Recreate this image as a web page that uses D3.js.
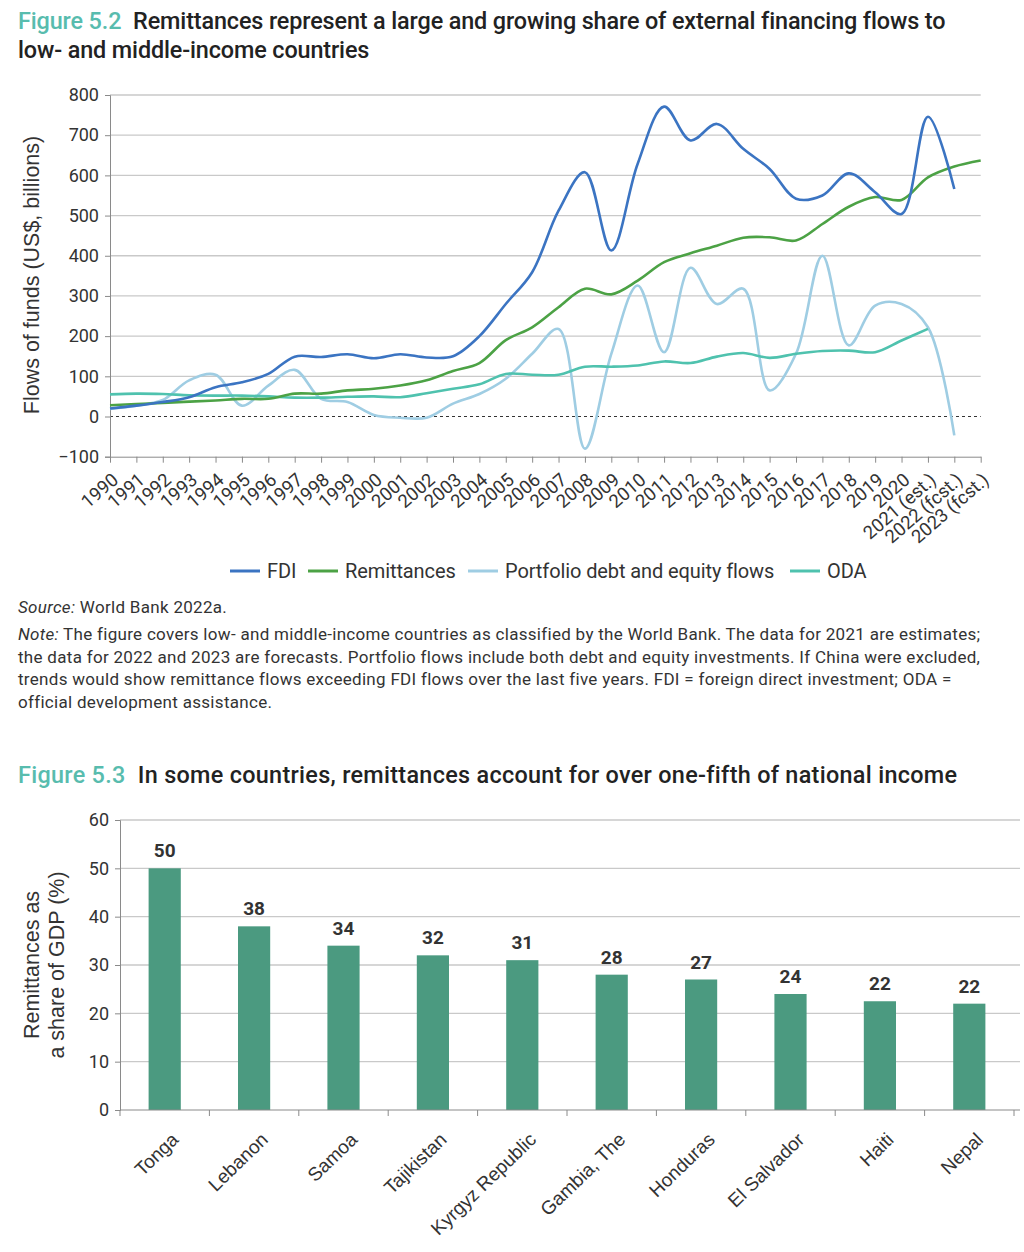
<!DOCTYPE html>
<html>
<head>
<meta charset="utf-8">
<script src="https://cdn.jsdelivr.net/npm/d3@7"></script>
<style>
body { margin:0; background:#fff; }
svg { display:block; font-family:Roboto, "Liberation Sans", sans-serif; }
.title { font-size:23.4px; font-weight:500; fill:#222; }
.fig { fill:#58bcae; }
.note { font-size:17px; fill:#333; letter-spacing:0.3px; }
.tick text { font-size:18px; fill:#333; font-family:Roboto, sans-serif; }
</style>
</head>
<body>
<svg id="page"></svg>
<script>
// ---- data, figure 5.2 ----
var years = ["1990","1991","1992","1993","1994","1995","1996","1997","1998","1999","2000","2001","2002","2003","2004","2005","2006","2007","2008","2009","2010","2011","2012","2013","2014","2015","2016","2017","2018","2019","2020","2021 (est.)","2022 (fcst.)","2023 (fcst.)"]
var fdi = [20,27,36,48,73,85,106,149,148,155,145,155,147,150,200,280,359,512,608,413,629,771,687,728,666,616,542,550,605,558,504,746,566]
var remittances = [28,31,34,37,40,44,44,57,57,65,69,77,90,113,133,190,222,272,318,304,338,384,406,425,445,446,438,479,522,546,539,595,622,637]
var portfolio = [19,27,41,90,104,27,77,116,44,36,4,-3,-3,32,56,94,156,218,-80,156,326,160,370,280,318,65,156,400,177,276,280,222,-47]
var oda = [55,57,56,53,52,52,50,47,47,49,50,48,58,69,80,106,104,104,124,124,127,137,133,149,158,146,156,163,164,160,189,218]
var seriesNames = ["FDI","Remittances","Portfolio debt and equity flows","ODA"]
var seriesColors = ["#3b74c2","#4ca245","#9fcde3","#4fc2ae"]
var yTicks1 = [-100,0,100,200,300,400,500,600,700,800]

// ---- data, figure 5.3 ----
var countries = ["Tonga","Lebanon","Samoa","Tajikistan","Kyrgyz Republic","Gambia, The","Honduras","El Salvador","Haiti","Nepal"]
var shares = [50,38,34,32,31,28,27,24,22.5,22]
var shareLabels = ["50","38","34","32","31","28","27","24","22","22"]
var yTicks2 = [0,10,20,30,40,50,60]

var svg = d3.select("#page").attr("width",1024).attr("height",1252)

var drawTitle = function(y, num, lines, spacing)
{
    var t = svg.append("text").attr("class","title").attr("x",18).attr("y",y)
        .style("letter-spacing",spacing+"px")
    t.append("tspan").attr("class","fig").text(num)
    t.append("tspan").text("\u2002" + lines[0])
    if (lines[1])
    {
        svg.append("text").attr("class","title").attr("x",18).attr("y",y+29)
            .style("letter-spacing",spacing+"px").text(lines[1])
    }
}

var drawLines = function()
{
    var xScale = d3.scalePoint().domain(years).range([110,980.7])
    var yScale = d3.scaleLinear().domain([-100,800]).range([456.7,95])

    // grid
    svg.append("g").selectAll("line")
        .data(yTicks1.filter(function(d){ return d != 0 && d != -100 }))
        .enter().append("line")
        .attr("x1",110).attr("x2",980.7)
        .attr("y1",function(d){ return yScale(d) })
        .attr("y2",function(d){ return yScale(d) })
        .attr("stroke","#c9c9c9").attr("stroke-width",1.3)

    svg.append("line")
        .attr("x1",110).attr("x2",980.7)
        .attr("y1",yScale(0)).attr("y2",yScale(0))
        .attr("stroke","#333").attr("stroke-dasharray","3,3")

    var yAxis = svg.append("g")
        .attr("transform","translate(110,0)")
        .call(d3.axisLeft(yScale).tickValues(yTicks1).tickSize(5).tickPadding(6)
            .tickFormat(function(d){ return d < 0 ? "\u2212" + (-d) : d }))
    yAxis.selectAll("line,path").attr("stroke","#8a8a8a")

    var xAxis = svg.append("g")
        .attr("transform","translate(0,456.7)")
        .call(d3.axisBottom(xScale).tickSize(6).tickSizeOuter(0))
    xAxis.selectAll("line,path").attr("stroke","#8a8a8a")
    xAxis.selectAll("text")
        .style("font-size","18.5px")
        .attr("text-anchor","end")
        .attr("y",0).attr("dy",0)
        .attr("transform","translate(9,25) rotate(-41)")

    var allSeries = [fdi, remittances, portfolio, oda]
    var line = d3.line()
        .x(function(d,i){ return xScale(years[i]) })
        .y(function(d){ return yScale(d) })
        .curve(d3.curveCatmullRom.alpha(0.5))

    // draw order: portfolio, oda, remittances, fdi
    var order = [2,3,1,0]
    order.forEach(function(k)
    {
        svg.append("path")
            .attr("d",line(allSeries[k]))
            .attr("fill","none")
            .attr("stroke",seriesColors[k])
            .attr("stroke-width",2.6)
    })

    // y title
    svg.append("text")
        .attr("transform","translate(39,275) rotate(-90)")
        .attr("text-anchor","middle")
        .style("font-family","'Liberation Sans', Arial, sans-serif")
        .style("font-size","21.5px").style("fill","#333")
        .text("Flows of funds (US$, billions)")

    // legend
    var legendX = [230,308,468,790]
    var legend = svg.append("g").selectAll("g")
        .data(seriesNames).enter().append("g")
        .attr("transform",function(d,i){ return "translate("+legendX[i]+",571)" })
    legend.append("line")
        .attr("x1",0).attr("x2",30)
        .attr("stroke",function(d,i){ return seriesColors[i] })
        .attr("stroke-width",3)
    legend.append("text")
        .attr("x",37).attr("dy","0.35em")
        .style("font-size","20px").style("fill","#333").style("letter-spacing","-0.1px")
        .text(function(d){ return d })
}

var drawNotes = function()
{
    var s = svg.append("text").attr("class","note").attr("x",18).attr("y",613)
    s.append("tspan").style("font-style","italic").text("Source:")
    s.append("tspan").text(" World Bank 2022a.")

    var lines = [
        "The figure covers low- and middle-income countries as classified by the World Bank. The data for 2021 are estimates;",
        "the data for 2022 and 2023 are forecasts. Portfolio flows include both debt and equity investments. If China were excluded,",
        "trends would show remittance flows exceeding FDI flows over the last five years. FDI = foreign direct investment; ODA =",
        "official development assistance."
    ]
    lines.forEach(function(l,i)
    {
        var t = svg.append("text").attr("class","note").attr("x",18).attr("y",640+i*22.5)
        if (i == 0)
        {
            t.append("tspan").style("font-style","italic").text("Note:")
            t.append("tspan").text(" " + l)
        }
        else
        {
            t.text(l)
        }
    })
}

var drawBars = function()
{
    var xScale = d3.scaleBand().domain(countries).range([120,1014]).paddingInner(0.64).paddingOuter(0.32)
    var yScale = d3.scaleLinear().domain([0,60]).range([1110,820])

    svg.append("g").selectAll("line")
        .data(yTicks2.filter(function(d){ return d > 0 }))
        .enter().append("line")
        .attr("x1",120).attr("x2",1020)
        .attr("y1",function(d){ return yScale(d) })
        .attr("y2",function(d){ return yScale(d) })
        .attr("stroke","#c9c9c9").attr("stroke-width",1.3)

    var yAxis = svg.append("g")
        .attr("transform","translate(120,0)")
        .call(d3.axisLeft(yScale).tickValues(yTicks2).tickSize(5).tickPadding(6))
    yAxis.selectAll("line,path").attr("stroke","#8a8a8a")

    svg.append("g").selectAll("rect")
        .data(shares).enter().append("rect")
        .attr("x",function(d,i){ return xScale(countries[i]) })
        .attr("y",function(d){ return yScale(d) })
        .attr("width",xScale.bandwidth())
        .attr("height",function(d){ return yScale(0) - yScale(d) })
        .attr("fill","#4b9a80")

    svg.append("g").selectAll("text")
        .data(shares).enter().append("text")
        .attr("x",function(d,i){ return xScale(countries[i]) + xScale.bandwidth()/2 })
        .attr("y",function(d){ return yScale(d) - 11 })
        .attr("text-anchor","middle")
        .style("font-size","19px").style("font-weight","bold").style("fill","#333")
        .text(function(d,i){ return shareLabels[i] })

    // x axis with ticks between bars
    var step = xScale.step()
    var x0 = xScale(countries[0]) - step*0.32
    svg.append("line")
        .attr("x1",120).attr("x2",1020)
        .attr("y1",yScale(0)).attr("y2",yScale(0))
        .attr("stroke","#8a8a8a")
    svg.append("g").selectAll("line")
        .data(d3.range(countries.length+1)).enter().append("line")
        .attr("x1",function(i){ return x0 + i*step })
        .attr("x2",function(i){ return x0 + i*step })
        .attr("y1",yScale(0)).attr("y2",yScale(0)+6)
        .attr("stroke","#8a8a8a")

    svg.append("g").selectAll("text")
        .data(countries).enter().append("text")
        .attr("transform",function(d){ return "translate("+(xScale(d)+xScale.bandwidth()/2+15)+",1141) rotate(-44)" })
        .attr("text-anchor","end")
        .style("font-family","'Liberation Sans', Arial, sans-serif")
        .style("font-size","19px").style("fill","#333")
        .text(function(d){ return d })

    var yt = svg.append("text")
        .attr("transform","translate(39,965) rotate(-90)")
        .attr("text-anchor","middle")
        .style("font-family","'Liberation Sans', Arial, sans-serif")
        .style("font-size","21.5px").style("fill","#333")
    yt.append("tspan").attr("x",0).attr("y",0).text("Remittances as")
    yt.append("tspan").attr("x",0).attr("y",25).text("a share of GDP (%)")
}

drawTitle(29, "Figure 5.2", ["Remittances represent a large and growing share of external financing flows to", "low- and middle-income countries"], -0.13)
drawLines()
drawNotes()
drawTitle(783, "Figure 5.3", ["In some countries, remittances account for over one-fifth of national income"], 0.3)
drawBars()
</script>
</body>
</html>
